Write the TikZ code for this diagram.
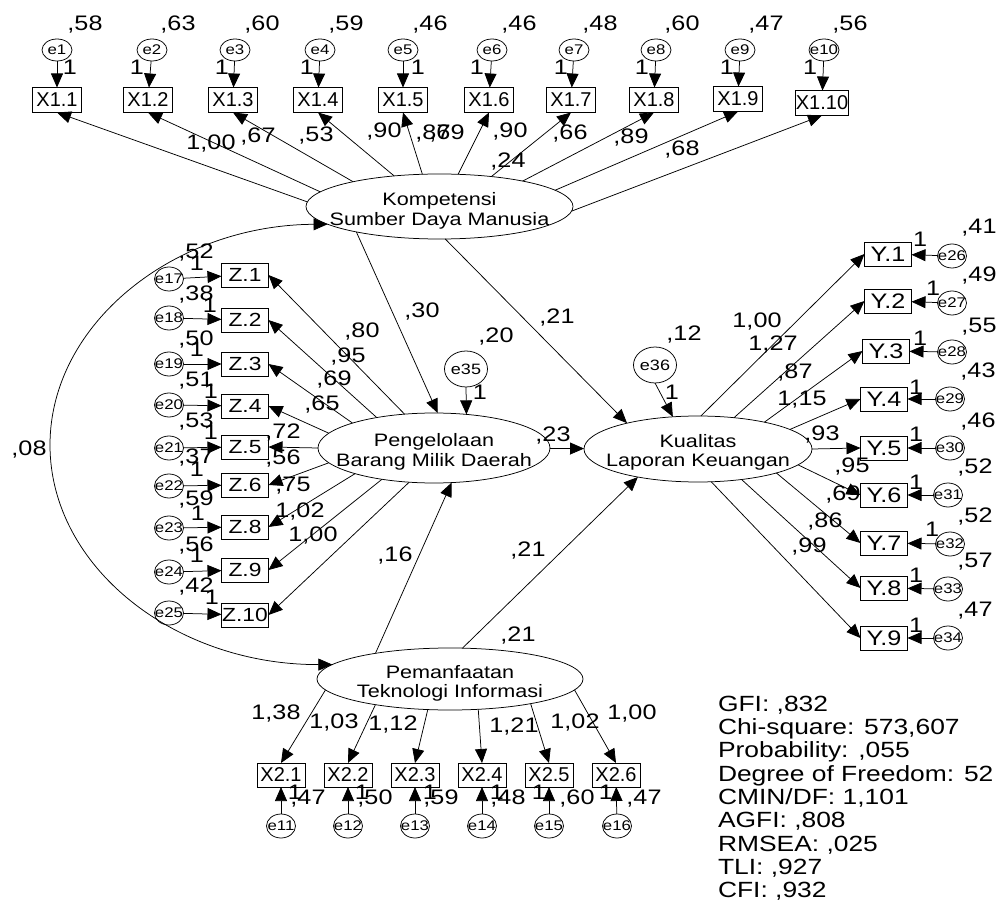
\documentclass[tikz,border=0pt]{standalone}
\usepackage{fontspec}
\setmainfont{Liberation Sans}[FakeStretch=1.2]
\newfontfamily\plainsans{Liberation Sans}
\usetikzlibrary{arrows.meta,shapes.geometric}
\tikzset{
  every node/.style={inner sep=0pt,outer sep=0pt},
  lw/.style={line width=0.75pt},
  conn/.style={lw,-{Triangle[length=14pt,width=12pt]}},
  twohead/.style={lw,{Triangle[length=14pt,width=12pt]}-{Triangle[length=14pt,width=12pt]}},
  lat/.style={draw,lw,ellipse},
  lattext/.style={align=center,font=\fontsize{18}{19.5}\selectfont},
  obsx/.style={draw,lw,minimum width=49pt,minimum height=25pt,font=\plainsans\fontsize{20}{20}\selectfont},
  obsz/.style={draw,lw,minimum width=47pt,minimum height=24pt,font=\fontsize{19}{19}\selectfont},
  obsy/.style={draw,lw,minimum width=47pt,minimum height=24pt,font=\fontsize{21}{21}\selectfont},
  obsb/.style={draw,lw,minimum width=48pt,minimum height=24pt,font=\plainsans\fontsize{20}{20}\selectfont},
  err/.style={draw,lw,ellipse,minimum width=29pt,minimum height=24pt,label={[font=\fontsize{14}{14}\selectfont]center:#1}},
  errtop/.style={draw,lw,ellipse,minimum width=30pt,minimum height=22pt,label={[font=\fontsize{14}{14}\selectfont]center:#1}},
  errbig/.style={draw,lw,ellipse,minimum width=43pt,minimum height=36pt,label={[font=\fontsize{15}{15}\selectfont]center:#1}},
  num/.style={font=\fontsize{21}{21}\selectfont},
  stats/.style={align=left,font=\fontsize{22}{23.3}\selectfont},
}
\begin{document}
\begin{tikzpicture}[x=1pt,y=-1pt]
\useasboundingbox (0,0) rectangle (1002,901);

% ---------- latent variables
\node[lat,minimum width=267pt,minimum height=65pt] (K) at (439.5,206.5) {};
\node[lattext] (Kt) at (439.5,211) {Kompetensi\\Sumber Daya Manusia};
\node[lat,minimum width=232pt,minimum height=70pt] (P) at (434,448) {};
\node[lattext] (Pt) at (434,452) {Pengelolaan\\Barang Milik Daerah};
\node[lat,minimum width=228pt,minimum height=66pt] (KL) at (698,449) {};
\node[lattext] (KLt) at (698,452.5) {Kualitas\\Laporan Keuangan};
\node[lat,minimum width=266pt,minimum height=62pt] (T) at (450,679) {};
\node[lattext] (Tt) at (450,683.5) {Pemanfaatan\\Teknologi Informasi};

% ---------- X1 indicators
\node[obsx] (xa1) at (57,100) {X1.1};
\node[obsx] (xa2) at (148,100) {X1.2};
\node[obsx] (xa3) at (233,100) {X1.3};
\node[obsx] (xa4) at (318,100) {X1.4};
\node[obsx] (xa5) at (403,100) {X1.5};
\node[obsx] (xa6) at (489,100) {X1.6};
\node[obsx] (xa7) at (571,100) {X1.7};
\node[obsx] (xa8) at (654,100) {X1.8};
\node[obsx] (xa9) at (738,99) {X1.9};
\node[obsx] (xa10) at (822,103) {X1.10};

\node[errtop=e1] (e1) at (57,50) {};
\node[errtop=e2] (e2) at (152,50) {};
\node[errtop=e3] (e3) at (235,50) {};
\node[errtop=e4] (e4) at (320,50) {};
\node[errtop=e5] (e5) at (403,50) {};
\node[errtop=e6] (e6) at (492,50) {};
\node[errtop=e7] (e7) at (574,50) {};
\node[errtop=e8] (e8) at (656,50) {};
\node[errtop=e9] (e9) at (740,50) {};
\node[errtop=e10] (e10) at (824,50) {};

\foreach \i in {1,...,10} {\draw[conn] (e\i) -- (xa\i);}

\node[num] (v1) at (85,25) {,58};
\node[num] (v2) at (178,25) {,63};
\node[num] (v3) at (262,25) {,60};
\node[num] (v4) at (346,25) {,59};
\node[num] (v5) at (430,25) {,46};
\node[num] (v6) at (519,25) {,46};
\node[num] (v7) at (600,25) {,48};
\node[num] (v8) at (682,25) {,60};
\node[num] (v9) at (766,25) {,47};
\node[num] (v10) at (850,25) {,56};

\node[num] (o1) at (70,67) {1};
\node[num] (o2) at (137,67) {1};
\node[num] (o3) at (222,67) {1};
\node[num] (o4) at (307,67) {1};
\node[num] (o5) at (418,67) {1};
\node[num] (o6) at (477,67) {1};
\node[num] (o7) at (561,67) {1};
\node[num] (o8) at (642,67) {1};
\node[num] (o9) at (727,67) {1};
\node[num] (o10) at (810,67) {1};

\draw[conn] (K.178) -- (xa1.south);
\draw[conn] (K.173) -- (xa2.south);
\draw[conn] (K.164) -- (xa3.south);
\draw[conn] (K.146) -- (xa4.south);
\draw[conn] (K.118) -- (xa5.south);
\draw[conn] (K.60) -- (xa6.south);
\draw[conn] (K.30) -- (xa7.south);
\draw[conn] (K.17) -- (xa8.south);
\draw[conn] (K.8) -- (xa9.south);
\draw[conn] (K.358) -- (xa10.south);

\node[num] (l1) at (211,144) {1,00};
\node[num] (l2) at (258,137) {,67};
\node[num] (l3) at (316,136) {,53};
\node[num] (l4) at (384,132) {,90};
\node[num] (l5) at (433,134) {,87};
\node[num] (l6) at (447,134) {,69};
\node[num] (l7) at (510,132) {,90};
\node[num] (l8) at (570,134) {,66};
\node[num] (l9) at (631,138) {,89};
\node[num] (l10) at (682,150) {,68};
\node[num] (vK) at (508,162) {,24};

% ---------- Z indicators
\node[obsz] (z1) at (245,275) {Z.1};
\node[obsz] (z2) at (245,320) {Z.2};
\node[obsz] (z3) at (245,364) {Z.3};
\node[obsz] (z4) at (245,406) {Z.4};
\node[obsz] (z5) at (245,447) {Z.5};
\node[obsz] (z6) at (245,485) {Z.6};
\node[obsz] (z8) at (245,527) {Z.8};
\node[obsz] (z9) at (245,570) {Z.9};
\node[obsz] (z10) at (245,615) {Z.10};

\node[err=e17] (e17) at (169,279) {};
\node[err=e18] (e18) at (169,318) {};
\node[err=e19] (e19) at (169,364) {};
\node[err=e20] (e20) at (169,405) {};
\node[err=e21] (e21) at (169,448) {};
\node[err=e22] (e22) at (169,486) {};
\node[err=e23] (e23) at (169,528) {};
\node[err=e24] (e24) at (169,572) {};
\node[err=e25] (e25) at (169,613) {};

\draw[conn] (e17) -- (z1);
\draw[conn] (e18) -- (z2);
\draw[conn] (e19) -- (z3);
\draw[conn] (e20) -- (z4);
\draw[conn] (e21) -- (z5);
\draw[conn] (e22) -- (z6);
\draw[conn] (e23) -- (z8);
\draw[conn] (e24) -- (z9);
\draw[conn] (e25) -- (z10);

\node[num] (v17) at (196,253) {,52};
\node[num] (v18) at (196,295) {,38};
\node[num] (v19) at (196,340) {,50};
\node[num] (v20) at (196,381) {,51};
\node[num] (v21) at (196,422) {,53};
\node[num] (v22) at (196,458) {,37};
\node[num] (v23) at (196,500) {,59};
\node[num] (v24) at (196,546) {,56};
\node[num] (v25) at (196,587) {,42};

\node[num] (o17) at (197,263) {1};
\node[num] (o18) at (210,305) {1};
\node[num] (o19) at (197,349) {1};
\node[num] (o20) at (211,391) {1};
\node[num] (o21) at (211,432) {1};
\node[num] (o22) at (197,469) {1};
\node[num] (o23) at (198,513) {1};
\node[num] (o24) at (197,555) {1};
\node[num] (o25) at (212,597) {1};

\draw[conn] (P.131) -- (z1.east);
\draw[conn] (P.152) -- (z2.east);
\draw[conn] (P.163) -- (z3.east);
\draw[conn] (P.172) -- (z4.east);
\draw[conn] (P.180) -- (z5.east);
\draw[conn] (P.188) -- (z6.east);
\draw[conn] (P.198) -- (z8.east);
\draw[conn] (P.211) -- (z9.east);
\draw[conn] (P.234) -- (z10.east);

\node[num] (p1) at (362,332) {,80};
\node[num] (p2) at (348,357) {,95};
\node[num] (p3) at (334,380) {,69};
\node[num] (p4) at (322,405) {,65};
\node[num] (p5) at (283,433) {,72};
\node[num] (p6) at (283,459) {,56};
\node[num] (p8) at (293,486) {,75};
\node[num] (p9) at (300,512) {1,02};
\node[num] (p10) at (313,536) {1,00};

% ---------- structural disturbances
\node[errbig=e35] (e35) at (466,369) {};
\draw[conn] (e35.south) -- (P.46);
\node[num] (v35) at (496,337) {,20};
\node[num] (o35) at (480,392) {1};

\node[errbig=e36] (e36) at (655,365) {};
\draw[conn] (e36.south) -- (KL.128);
\node[num] (v36) at (684,335) {,12};
\node[num] (o36) at (672,392) {1};

% ---------- structural paths
\draw[conn] (K.197) -- (P.84);
\draw[conn] (K.280) -- (KL.160);
\draw[conn] (P) -- (KL);
\draw[conn] (T.161) -- (P.297);
\draw[conn] (T.68) -- (KL.205);

\node[num] (s1) at (422,312) {,30};
\node[num] (s2) at (557,318) {,21};
\node[num] (s3) at (553,436) {,23};
\node[num] (s4) at (395,556) {,16};
\node[num] (s5) at (528,551) {,21};
\node[num] (vT) at (518,636) {,21};

% covariance
\coordinate (covleft) at (50,445);
\draw[twohead] (K.189) .. controls (175,225) and (50,323) .. (covleft) .. controls (50,567) and (175,665) .. (T.173);
\node[num] (cv) at (29,450) {,08};

% ---------- Y indicators
\node[obsy] (y1) at (888,254) {Y.1};
\node[obsy] (y2) at (888,301) {Y.2};
\node[obsy] (y3) at (886,351) {Y.3};
\node[obsy] (y4) at (884,399) {Y.4};
\node[obsy] (y5) at (884,448) {Y.5};
\node[obsy] (y6) at (884,495) {Y.6};
\node[obsy] (y7) at (884,543) {Y.7};
\node[obsy] (y8) at (884,588) {Y.8};
\node[obsy] (y9) at (884,638) {Y.9};

\node[err=e26] (e26) at (952,256) {};
\node[err=e27] (e27) at (952,303) {};
\node[err=e28] (e28) at (952,352) {};
\node[err=e29] (e29) at (950,399) {};
\node[err=e30] (e30) at (950,448) {};
\node[err=e31] (e31) at (948,495) {};
\node[err=e32] (e32) at (950,544) {};
\node[err=e33] (e33) at (948,589) {};
\node[err=e34] (e34) at (948,638) {};

\draw[conn] (e26) -- (y1);
\draw[conn] (e27) -- (y2);
\draw[conn] (e28) -- (y3);
\draw[conn] (e29) -- (y4);
\draw[conn] (e30) -- (y5);
\draw[conn] (e31) -- (y6);
\draw[conn] (e32) -- (y7);
\draw[conn] (e33) -- (y8);
\draw[conn] (e34) -- (y9);

\node[num] (v26) at (979,228) {,41};
\node[num] (v27) at (979,276) {,49};
\node[num] (v28) at (979,327) {,55};
\node[num] (v29) at (978,372) {,43};
\node[num] (v30) at (978,422) {,46};
\node[num] (v31) at (975,468) {,52};
\node[num] (v32) at (975,517) {,52};
\node[num] (v33) at (975,562) {,57};
\node[num] (v34) at (975,611) {,47};

\node[num] (o26) at (920,239) {1};
\node[num] (o27) at (933,288) {1};
\node[num] (o28) at (920,338) {1};
\node[num] (o29) at (916,387) {1};
\node[num] (o30) at (916,434) {1};
\node[num] (o31) at (916,482) {1};
\node[num] (o32) at (932,529) {1};
\node[num] (o33) at (916,575) {1};
\node[num] (o34) at (916,625) {1};

\draw[conn] (KL.85) -- (y1.west);
\draw[conn] (KL.41) -- (y2.west);
\draw[conn] (KL.22) -- (y3.west);
\draw[conn] (KL.12) -- (y4.west);
\draw[conn] (KL.0) -- (y5.west);
\draw[conn] (KL.351) -- (y6.west);
\draw[conn] (KL.343) -- (y7.west);
\draw[conn] (KL.325) -- (y8.west);
\draw[conn] (KL.292) -- (y9.west);

\node[num] (q1) at (757,322) {1,00};
\node[num] (q2) at (773,345) {1,27};
\node[num] (q3) at (795,373) {,87};
\node[num] (q4) at (802,400) {1,15};
\node[num] (q5) at (822,435) {,93};
\node[num] (q6) at (852,467) {,95};
\node[num] (q7) at (843,495) {,69};
\node[num] (q8) at (825,522) {,86};
\node[num] (q9) at (809,547) {,99};

% ---------- X2 indicators
\node[obsb] (xb1) at (281,775) {X2.1};
\node[obsb] (xb2) at (348,775) {X2.2};
\node[obsb] (xb3) at (415,775) {X2.3};
\node[obsb] (xb4) at (482,775) {X2.4};
\node[obsb] (xb5) at (549,775) {X2.5};
\node[obsb] (xb6) at (616,775) {X2.6};

\node[err=e11] (e11) at (281,826) {};
\node[err=e12] (e12) at (348,826) {};
\node[err=e13] (e13) at (415,826) {};
\node[err=e14] (e14) at (482,826) {};
\node[err=e15] (e15) at (549,826) {};
\node[err=e16] (e16) at (617,826) {};

\draw[conn] (e11) -- (xb1);
\draw[conn] (e12) -- (xb2);
\draw[conn] (e13) -- (xb3);
\draw[conn] (e14) -- (xb4);
\draw[conn] (e15) -- (xb5);
\draw[conn] (e16) -- (xb6);

\node[num] (o11) at (295,792) {1};
\node[num] (o12) at (362,792) {1};
\node[num] (o13) at (430,792) {1};
\node[num] (o14) at (497,792) {1};
\node[num] (o15) at (539,792) {1};
\node[num] (o16) at (606,792) {1};

\node[num] (v11) at (308,799) {,47};
\node[num] (v12) at (375,799) {,50};
\node[num] (v13) at (441,799) {,59};
\node[num] (v14) at (508,799) {,48};
\node[num] (v15) at (577,799) {,60};
\node[num] (v16) at (644,799) {,47};

\draw[conn] (T.185) -- (xb1.north);
\draw[conn] (T.199) -- (xb2.north);
\draw[conn] (T.234) -- (xb3.north);
\draw[conn] (T.313) -- (xb4.north);
\draw[conn] (T.343) -- (xb5.north);
\draw[conn] (T.355) -- (xb6.north);

\node[num] (t1) at (276,714) {1,38};
\node[num] (t2) at (334,723) {1,03};
\node[num] (t3) at (393,725) {1,12};
\node[num] (t4) at (514,727) {1,21};
\node[num] (t5) at (575,723) {1,02};
\node[num] (t6) at (632,714) {1,00};

% ---------- fit statistics
\node[stats,anchor=north west] (fit) at (718,696) {GFI: ,832\\Chi-square: 573,607\\Probability: ,055\\Degree of Freedom: 52\\CMIN/DF: 1,101\\AGFI: ,808\\RMSEA: ,025\\TLI: ,927\\CFI: ,932};
\end{tikzpicture}
\end{document}
